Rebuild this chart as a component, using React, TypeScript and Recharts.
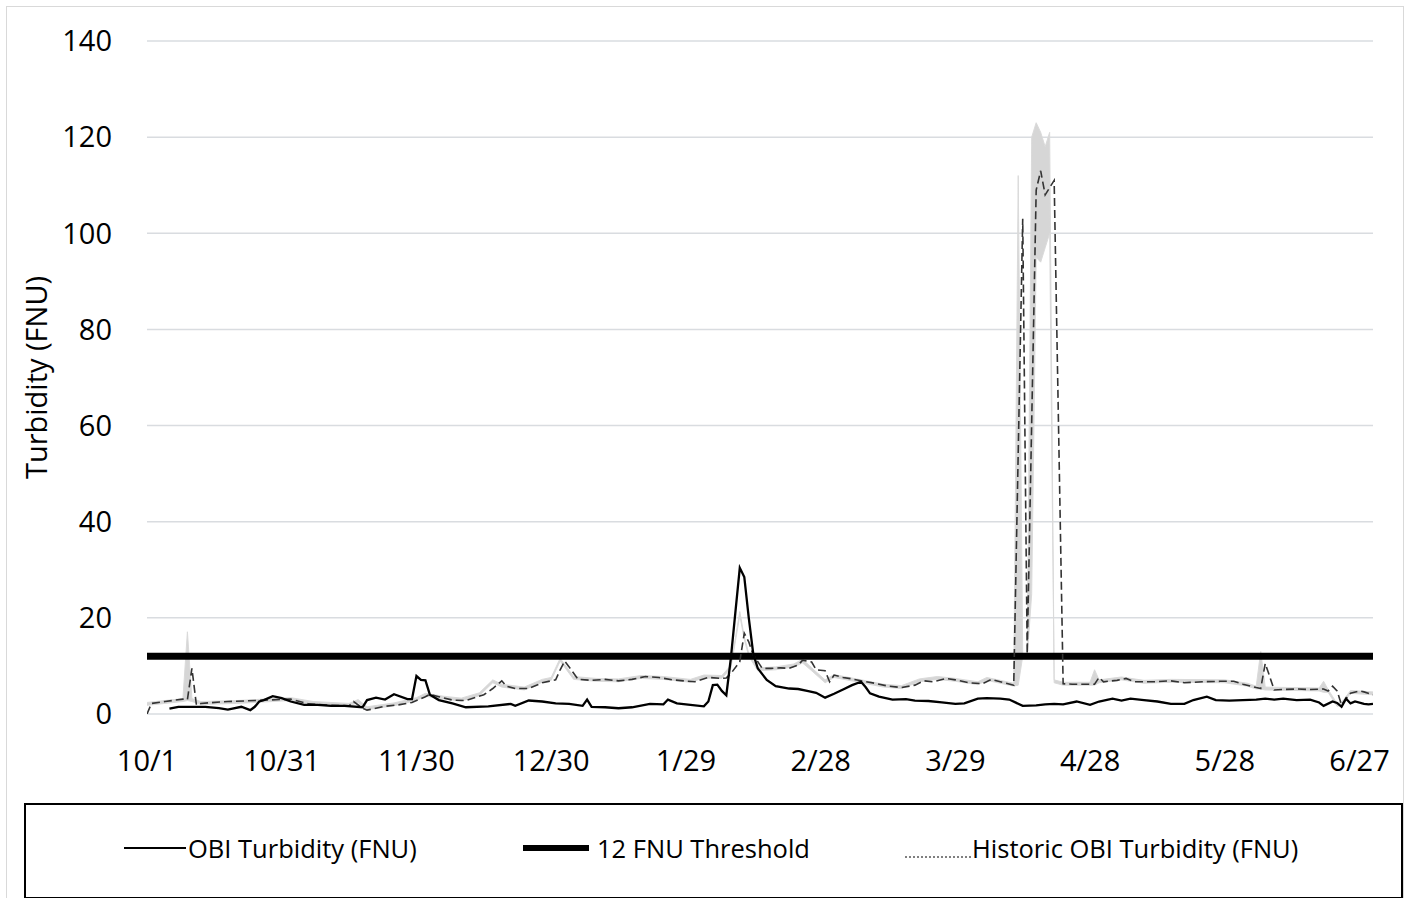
import React from 'react';
import { ComposedChart, Line, Area, XAxis, YAxis, CartesianGrid } from 'recharts';

const tickDays = [0, 30, 60, 90, 120, 150, 180, 210, 240, 270];
const tickLabels = ['10/1', '10/31', '11/30', '12/30', '1/29', '2/28', '3/29', '4/28', '5/28', '6/27'];
const yTicks = [0, 20, 40, 60, 80, 100, 120, 140];

// OBI Turbidity (FNU): [day since 10/1, value]
const obiPoints: [number, number][] = [
  [5, 1.1], [7, 1.5], [13, 1.5], [16, 1.2], [18, 0.9], [21, 1.5], [23, 0.8], [24, 1.5], [25, 2.6], [26, 2.9],
  [28, 3.7], [30, 3.3], [32, 2.6], [35, 1.9], [38, 1.9], [41, 1.7], [44, 1.7], [48, 1.4], [49, 2.9], [51, 3.4],
  [53, 3.0], [55, 4.1], [58, 3.1], [59, 3.1], [60, 7.9], [61, 7.1], [62, 7.0], [63, 4.0], [65, 2.9], [68, 2.2],
  [71, 1.4], [76, 1.6], [81, 2.1], [82, 1.7], [85, 2.8], [88, 2.6], [91, 2.2], [94, 2.1], [97, 1.7], [98, 3.0],
  [99, 1.5], [102, 1.4], [105, 1.2], [108, 1.4], [112, 2.1], [115, 2.0], [116, 3.0], [118, 2.2], [121, 1.9], [124, 1.6],
  [125, 2.6], [126, 6.0], [127, 6.1], [128, 4.8], [129, 3.9], [130, 11.5], [131, 21.0], [132, 30.4], [133, 28.5], [134, 20.0],
  [135, 12.5], [136, 9.5], [138, 7.1], [140, 5.8], [143, 5.3], [145, 5.2], [147, 4.8], [149, 4.4], [151, 3.4], [153, 4.2],
  [155, 5.1], [157, 6.0], [159, 6.7], [160, 5.6], [161, 4.3], [163, 3.6], [166, 3.0], [169, 3.1], [171, 2.8], [174, 2.7],
  [177, 2.4], [180, 2.1], [182, 2.2], [185, 3.2], [187, 3.3], [190, 3.2], [192, 3.0], [195, 1.7], [198, 1.8], [200, 2.0],
  [202, 2.1], [204, 2.0], [207, 2.6], [210, 1.9], [212, 2.6], [215, 3.2], [217, 2.8], [219, 3.2], [222, 2.9], [225, 2.6],
  [228, 2.1], [231, 2.1], [233, 2.9], [236, 3.6], [238, 2.9], [241, 2.8], [244, 2.9], [247, 3.0], [249, 3.2], [251, 3.0],
  [253, 3.2], [256, 2.9], [259, 3.0], [261, 2.4], [262, 1.7], [264, 2.6], [265, 2.3], [266, 1.5], [267, 3.2], [268, 2.2],
  [269, 2.6], [271, 2.1], [272, 2.0], [273, 2.1],
];

// Historic OBI Turbidity (FNU): [day since 10/1, value]
const historicPoints: [number, number][] = [
  [0, 0], [1, 2.2], [4, 2.6], [8, 3.1], [9, 3.0], [10, 9.5], [11, 1.9], [12, 2.2], [18, 2.6], [27, 2.9],
  [32, 3.1], [36, 2.1], [41, 1.8], [45, 1.7], [46, 2.6], [48, 1.2], [49, 0.8], [53, 1.6], [56, 1.9], [59, 2.4],
  [62, 3.6], [63, 4.1], [65, 3.6], [68, 2.9], [71, 2.8], [75, 4.0], [77, 5.3], [79, 6.9], [80, 5.8], [82, 5.3],
  [85, 5.3], [88, 6.5], [91, 7.1], [92, 9.2], [93, 11.0], [94, 9.8], [96, 7.2], [99, 7.0], [102, 7.2], [105, 6.9],
  [108, 7.2], [111, 7.8], [114, 7.6], [117, 7.1], [122, 6.7], [125, 7.6], [128, 7.4], [129, 7.5], [130, 8.4], [132, 10.9],
  [133, 16.8], [134, 15.0], [135, 12.3], [137, 9.5], [139, 9.5], [141, 9.6], [143, 9.5], [145, 10.2], [146, 11.2], [148, 10.8],
  [149, 9.2], [151, 9.0], [152, 6.7], [153, 8.1], [155, 7.6], [157, 7.3], [159, 6.9], [162, 6.4], [165, 5.8], [168, 5.5],
  [171, 6.0], [173, 6.9], [175, 6.7], [178, 7.4], [180, 7.1], [183, 6.5], [186, 6.3], [188, 7.2], [190, 6.7], [193, 6.0],
  [195, 103], [196, 12.5], [198, 109], [199, 113], [200, 108], [202, 111], [204, 6.3], [206, 6.2], [209, 6.2], [211, 6.2],
  [212, 7.6], [213, 6.7], [216, 7.0], [218, 7.4], [220, 6.7], [224, 6.7], [228, 6.9], [231, 6.5], [235, 6.7], [239, 6.8],
  [242, 6.8], [244, 6.2], [247, 5.5], [248, 5.3], [249, 10.5], [250, 7.8], [251, 5.0], [253, 5.1], [256, 5.2], [259, 5.1],
  [262, 5.2], [263, 4.8], [264, 5.8], [265, 4.8], [266, 1.9], [267, 3.2], [268, 4.3], [270, 4.8], [271, 4.6], [273, 4.0],
];

// Historic range band (light gray): [day, low, high]
const bandPoints: [number, number, number][] = [
  [0, 1.8, 2.4], [4, 2.2, 2.8], [8, 2.6, 3.2], [9, 2.8, 17.1], [10, 2.6, 3.2], [12, 2.0, 2.6], [20, 2.2, 2.8],
  [28, 2.6, 3.2], [32, 2.8, 3.4], [37, 2.0, 2.6], [45, 1.6, 2.2], [47, 2.4, 3.0], [49, 0.9, 1.5], [55, 1.7, 2.3],
  [60, 2.8, 3.4], [62, 3.7, 4.3], [66, 3.1, 3.7], [70, 2.7, 3.3], [74, 3.8, 4.4], [77, 6.5, 7.1], [79, 5.6, 6.2],
  [84, 5.0, 5.6], [88, 6.6, 7.2], [90, 7.0, 7.6], [92, 11.0, 11.6], [95, 7.2, 7.8], [100, 6.8, 7.4], [105, 6.7, 7.3],
  [110, 7.4, 8.0], [115, 7.2, 7.8], [121, 6.6, 7.2], [124, 7.5, 8.1], [128, 7.4, 8.0], [130, 9.5, 10.1], [132, 20.5, 21.3],
  [133, 15.5, 16.1], [134, 12.0, 12.6], [136, 9.0, 9.6], [140, 9.2, 9.8], [144, 9.8, 10.4], [146, 10.6, 11.4], [148, 9.0, 9.6],
  [151, 6.5, 7.1], [153, 7.6, 8.2], [158, 6.7, 7.3], [164, 5.6, 6.2], [168, 5.3, 5.9], [172, 6.7, 7.3], [176, 7.2, 7.8],
  [180, 6.8, 7.4], [185, 6.1, 6.7], [187, 7.0, 7.6], [193, 5.8, 6.4], [194, 6.0, 112], [195, 12.0, 12.6], [196, 11.8, 12.4],
  [197, 25, 120], [198, 95, 123], [199, 94, 121], [200, 97, 118], [201, 100, 121], [202, 6.5, 7.1], [204, 6.0, 6.6],
  [210, 6.0, 6.6], [211, 6.0, 9.2], [212, 6.5, 7.1], [217, 7.1, 7.7], [222, 6.4, 7.0], [228, 6.6, 7.2], [240, 6.5, 7.1],
  [245, 5.8, 6.4], [247, 5.2, 5.8], [248, 5.2, 13.0], [249, 5.0, 5.6], [255, 4.9, 5.5], [261, 4.8, 5.4], [262, 4.5, 6.8],
  [263, 4.5, 5.1], [265, 1.6, 2.2], [266, 1.8, 2.4], [268, 4.3, 4.9], [273, 4.0, 4.6],
];

const thresholdDays = [0, 273];
const thresholdValue = 12;

const obiData = obiPoints.map(([day, v]) => ({ day, obi: v }));
const historicData = historicPoints.map(([day, v]) => ({ day, historic: v }));
const bandData = bandPoints.map(([day, lo, hi]) => ({ day, band: [lo, hi] }));
const thresholdData = thresholdDays.map((day) => ({ day, threshold: thresholdValue }));

const FONT = '"Open Sans", "Noto Sans", sans-serif';

function LegendBox() {
  const textStyle: React.CSSProperties = { fontFamily: FONT, fontSize: 25.5, color: '#000', whiteSpace: 'nowrap' };
  return (
    <div
      style={{
        position: 'absolute', left: 24, top: 803, width: 1375, height: 92,
        border: '2px solid #000', boxSizing: 'content-box',
      }}
    >
      <div style={{ position: 'absolute', left: 98, top: 26, display: 'flex', alignItems: 'center' }}>
        <svg width={62} height={20}><line x1={0} y1={10} x2={62} y2={10} stroke="#000" strokeWidth={2} /></svg>
        <span style={{ ...textStyle, marginLeft: 2 }}>OBI Turbidity (FNU)</span>
      </div>
      <div style={{ position: 'absolute', left: 497, top: 26, display: 'flex', alignItems: 'center' }}>
        <svg width={66} height={20}><line x1={0} y1={10} x2={66} y2={10} stroke="#000" strokeWidth={6} /></svg>
        <span style={{ ...textStyle, marginLeft: 8 }}>12 FNU Threshold</span>
      </div>
      <div style={{ position: 'absolute', left: 879, top: 26, display: 'flex', alignItems: 'center' }}>
        <svg width={66} height={20}><line x1={0} y1={19} x2={66} y2={19} stroke="#000" strokeWidth={1} strokeDasharray="2 2" /></svg>
        <span style={{ ...textStyle, marginLeft: 1 }}>Historic OBI Turbidity (FNU)</span>
      </div>
    </div>
  );
}

export default function App() {
  return (
    <div style={{ position: 'absolute', left: 0, top: 0, width: 1409, height: 898, background: '#fff', overflow: 'hidden' }}>
      <div style={{ position: 'absolute', left: 6, top: 6, width: 1396, height: 900, border: '1px solid #d9d9d9' }} />
      <div style={{ position: 'absolute', left: 0, top: 0 }}>
        <ComposedChart width={1409} height={800} margin={{ top: 41, right: 36, bottom: 26, left: 0 }}>
          <CartesianGrid vertical={false} stroke="#d9dce0" strokeWidth={1.5} />
          <XAxis
            type="number"
            dataKey="day"
            domain={[0, 273]}
            ticks={tickDays}
            tickFormatter={(d: number) => tickLabels[tickDays.indexOf(d)] ?? ''}
            axisLine={false}
            tickLine={false}
            height={60}
            tickMargin={30}
            interval={0}
            allowDataOverflow
            tick={{ fontFamily: FONT, fontSize: 29, fill: '#000' }}
          />
          <YAxis
            type="number"
            domain={[0, 140]}
            ticks={yTicks}
            width={147}
            axisLine={false}
            tickLine={false}
            tickMargin={29}
            interval={0}
            allowDataOverflow
            tick={{ fontFamily: FONT, fontSize: 29, fill: '#000' }}
            label={{
              value: 'Turbidity (FNU)', angle: -90, position: 'insideLeft', offset: 37,
              style: { fontFamily: FONT, fontSize: 29, fill: '#000', textAnchor: 'middle' },
            }}
          />
          <Area
            data={bandData}
            dataKey="band"
            type="linear"
            stroke="#dadada"
            strokeWidth={1}
            fill="#d6d6d6"
            fillOpacity={1}
            isAnimationActive={false}
            dot={false}
            activeDot={false}
          />
          <Line
            data={thresholdData}
            dataKey="threshold"
            type="linear"
            stroke="#000"
            strokeWidth={7}
            dot={false}
            activeDot={false}
            isAnimationActive={false}
          />
          <Line
            data={historicData}
            dataKey="historic"
            type="linear"
            stroke="#333"
            strokeWidth={1.6}
            strokeDasharray="8 4"
            dot={false}
            activeDot={false}
            isAnimationActive={false}
          />
          <Line
            data={obiData}
            dataKey="obi"
            type="linear"
            stroke="#000"
            strokeWidth={2.3}
            dot={false}
            activeDot={false}
            isAnimationActive={false}
          />
        </ComposedChart>
      </div>
      <LegendBox />
    </div>
  );
}
